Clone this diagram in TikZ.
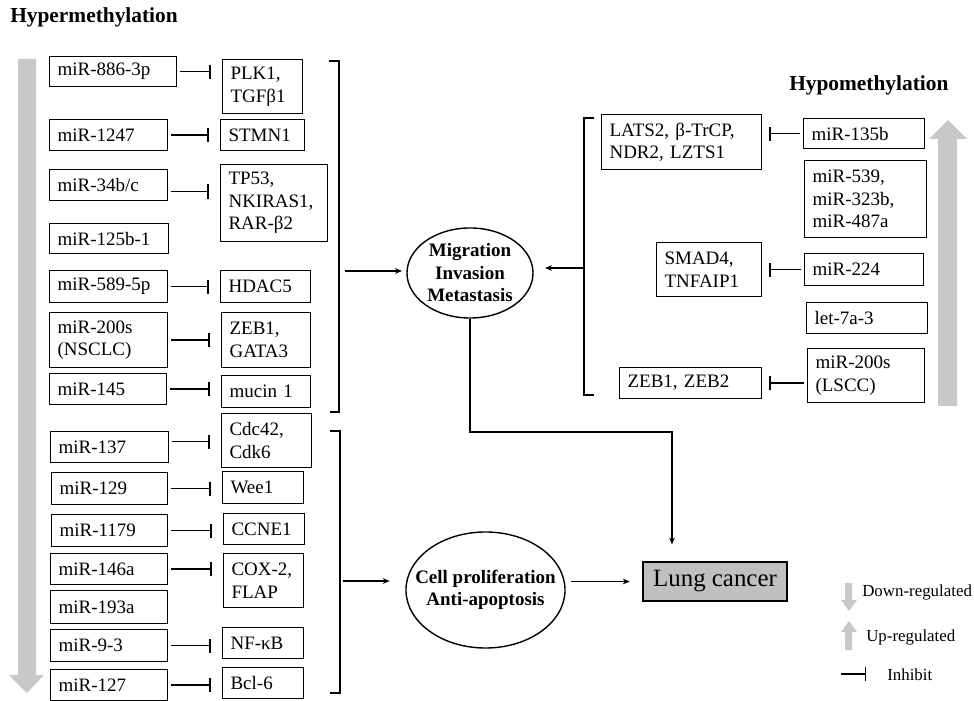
\documentclass[tikz,border=0pt]{standalone}
\usepackage{fontspec}
\setmainfont{Liberation Serif}
\usepackage{tikz}
\usetikzlibrary{shapes.geometric, arrows.meta, positioning, calc}
\newcommand{\boxfont}{\fontsize{13.5}{16}\selectfont}
\newcommand{\headfont}{\fontsize{15.2}{18}\selectfont\bfseries}
\newcommand{\keyfont}{\fontsize{12}{14}\selectfont}
\definecolor{arrgray}{RGB}{200,200,200}
\definecolor{lunggray}{RGB}{192,192,192}
\tikzstyle{gbox}    = [rectangle, draw=black, line width=0.8pt, anchor=north west,
                       align=left, inner xsep=0.2cm, inner ysep=2pt, font=\boxfont]
\tikzstyle{proc}    = [ellipse, draw=black, line width=1pt, inner sep=0pt,
                       align=center, font=\boxfont\bfseries]
\tikzstyle{arr}     = [-{Stealth[length=5pt, width=4pt]}, line width=1pt]
\tikzstyle{inh}     = [-{Bar[width=10pt]}, line width=1pt, shorten <=2pt]
\tikzstyle{brk}     = [line width=1pt]
\tikzstyle{headtxt} = [font=\headfont, anchor=west, inner sep=0pt]
\tikzstyle{keytxt}  = [font=\keyfont, anchor=west, inner sep=0pt]
\tikzset{sz/.style 2 args={text width=#1*0.025cm-0.4cm, minimum height=#2*0.025cm}}

\begin{document}
\begin{tikzpicture}[x=0.025cm, y=-0.025cm]
  \useasboundingbox (0,0) rectangle (974,701);

  \node[headtxt] (hyper) at (10,17) {Hypermethylation};
  \node[headtxt] (hypo) at (789,85) {Hypomethylation};

  \fill[arrgray] (18,59) -- (36,59) -- (36,675) -- (44,675) -- (27,693)
    -- (9,675) -- (18,675) -- cycle;
  \fill[arrgray] (938,406) -- (957,406) -- (957,139) -- (967,139) -- (948,120)
    -- (929,139) -- (938,139) -- cycle;

  \node[gbox, sz={127}{30}] (m1)  at (49,56)  {miR-886-3p};
  \node[gbox, sz={118}{31}] (m2)  at (49,119) {miR-1247};
  \node[gbox, sz={118}{31}] (m3)  at (49,169) {miR-34b/c};
  \node[gbox, sz={119}{30}] (m4)  at (49,223) {miR-125b-1};
  \node[gbox, sz={118}{32}] (m5)  at (49,270) {miR-589-5p};
  \node[gbox, sz={118}{55}] (m6)  at (49,312) {miR-200s\\(NSCLC)};
  \node[gbox, sz={117}{31}] (m7)  at (49,373) {miR-145};
  \node[gbox, sz={118}{31}] (m8)  at (50,431) {miR-137};
  \node[gbox, sz={116}{32}] (m9)  at (51,472) {miR-129};
  \node[gbox, sz={116}{32}] (m10) at (51,514) {miR-1179};
  \node[gbox, sz={117}{31}] (m11) at (50,553) {miR-146a};
  \node[gbox, sz={117}{33}] (m12) at (50,590) {miR-193a};
  \node[gbox, sz={117}{32}] (m13) at (50,629) {miR-9-3};
  \node[gbox, sz={117}{31}] (m14) at (50,669) {miR-127};

  \node[gbox, sz={80}{54}]  (t1)  at (222,59)  {PLK1,\\TGFβ1};
  \node[gbox, sz={84}{31}]  (t2)  at (220,119) {STMN1};
  \node[gbox, sz={107}{77}] (t3)  at (220,164) {TP53,\\NKIRAS1,\\RAR-β2};
  \node[gbox, sz={90}{32}]  (t5)  at (220,270) {HDAC5};
  \node[gbox, sz={89}{55}]  (t6)  at (221,312) {ZEB1,\\GATA3};
  \node[gbox, sz={89}{32}]  (t7)  at (221,375) {mucin 1};
  \node[gbox, sz={90}{54}]  (t8)  at (221,413) {Cdc42,\\Cdk6};
  \node[gbox, sz={81}{32}]  (t9)  at (222,471) {Wee1};
  \node[gbox, sz={81}{31}]  (t10) at (223,513) {CCNE1};
  \node[gbox, sz={80}{54}]  (t11) at (223,553) {COX-2,\\FLAP};
  \node[gbox, sz={81}{31}]  (t13) at (222,627) {NF-κB};
  \node[gbox, sz={81}{31}]  (t14) at (222,667) {Bcl-6};

  \draw[inh, shorten >=8pt] (m1.east) -- (m1.east -| t1.west);
  \draw[inh, shorten >=8pt] (m2.east) -- (m2.east -| t2.west);
  \draw[inh, shorten >=8pt] ([yshift=-4.6pt]m3.east) -- ([yshift=-4.6pt]m3.east -| t3.west);
  \draw[inh, shorten >=8pt] (m5.east) -- (m5.east -| t5.west);
  \draw[inh, shorten >=8pt] (m6.east) -- (m6.east -| t6.west);
  \draw[inh, shorten >=8pt] (m7.east) -- (m7.east -| t7.west);
  \draw[inh, shorten >=8pt] ([yshift=3.9pt]m8.east) -- ([yshift=3.9pt]m8.east -| t8.west);
  \draw[inh, shorten >=8pt] (m9.east) -- (m9.east -| t9.west);
  \draw[inh, shorten >=8pt] (m10.east) -- (m10.east -| t10.west);
  \draw[inh, shorten >=8pt] (m11.east) -- (m11.east -| t11.west);
  \draw[inh, shorten >=8pt] (m13.east) -- (m13.east -| t13.west);
  \draw[inh, shorten >=8pt] (m14.east) -- (m14.east -| t14.west);

  \node[gbox, sz={160}{55}] (rt1) at (601,114) {LATS2, β-TrCP,\\NDR2, LZTS1};
  \node[gbox, sz={105}{54}] (rt3) at (656,242) {SMAD4,\\TNFAIP1};
  \node[gbox, sz={142}{31}] (rt5) at (619,367) {ZEB1, ZEB2};

  \node[gbox, sz={121}{30}] (r1) at (803,118) {miR-135b};
  \node[gbox, sz={122}{77}] (r2) at (804,160) {miR-539,\\miR-323b,\\miR-487a};
  \node[gbox, sz={119}{32}] (r3) at (804,253) {miR-224};
  \node[gbox, sz={121}{31}] (r4) at (806,302) {let-7a-3};
  \node[gbox, sz={117}{54}] (r5) at (807,348) {miR-200s\\(LSCC)};

  \draw[inh, shorten >=5pt] (r1.west) -- (r1.west -| rt1.east);
  \draw[inh, shorten >=5pt] (r3.west) -- (r3.west -| rt3.east);
  \draw[inh, shorten >=5pt] (r5.west |- rt5.east) -- (rt5.east);

  \node[proc, minimum width=3.15cm, minimum height=2.25cm] (mig) at (470,273)
      {Migration\\Invasion\\Metastasis};
  \node[proc, inner xsep=-11pt, minimum width=3.975cm, minimum height=2.9cm]
      (cell) at (485.5,590) {Cell proliferation\\Anti-apoptosis};
  \node[rectangle, draw=black, line width=0.8pt, fill=lunggray, minimum width=3.6cm,
        minimum height=0.975cm, font=\fontsize{17.7}{20}\selectfont]
      (lung) at (715,581.5) {Lung cancer};

  \draw[brk] (329,61) -- (339,61) -- (339,271) coordinate (bu) -- (339,412) -- (330,412);
  \draw[brk] (330,431) -- (340,431) -- (340,581) coordinate (bl) -- (340,693) -- (330,693);
  \draw[brk] (594,118) -- (584,118) -- (584,268) coordinate (br) -- (584,395) -- (594,395);
  \coordinate (turn) at (672,432);

  \draw[arr, shorten <=4pt, shorten >=3pt] (bu) -- (bu -| mig.west);
  \draw[arr, shorten <=2pt, shorten >=11pt] (bl) -- (bl -| cell.west);
  \draw[arr, shorten >=8pt] (br) -- (br -| mig.east);
  \draw[arr, shorten >=12pt] (mig.south) |- (turn) -- (turn |- lung.north);
  \draw[arr, shorten <=4pt, shorten >=9pt] (cell.east |- lung.west) -- (lung.west);

  \fill[arrgray] (845,583) -- (852,583) -- (852,600) -- (857,600) -- (849,611)
    -- (841,600) -- (845,600) -- cycle;
  \fill[arrgray] (845,650) -- (852,650) -- (852,632) -- (857,632) -- (849,621)
    -- (841,632) -- (845,632) -- cycle;
  \node[keytxt] (kdown) at (862,592) {Down-regulated};
  \node[keytxt] (kup) at (866,637) {Up-regulated};
  \coordinate (kin1) at (841,674); \coordinate (kin2) at (866,674);
  \draw[inh, shorten <=0pt] (kin1) -- (kin2);
  \node[keytxt] (kinh) at (887,675) {Inhibit};

\end{tikzpicture}
\end{document}
